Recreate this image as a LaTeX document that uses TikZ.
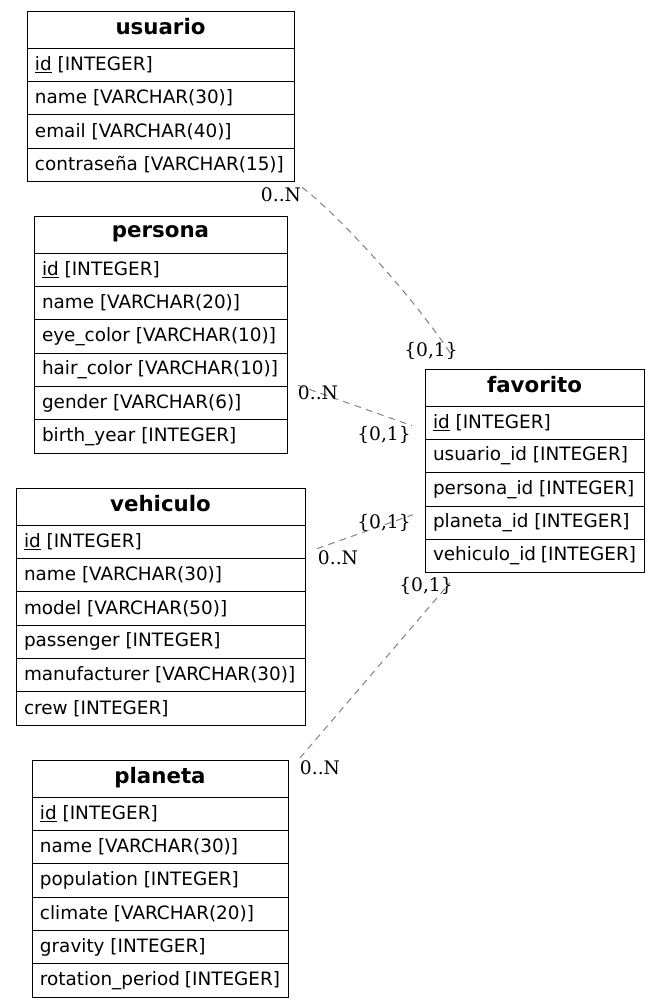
\documentclass[tikz,border=0pt]{standalone}
\usepackage{fontspec}
\setmainfont{DejaVu Sans}
\newfontfamily\cardfont{DejaVu Serif}
\usetikzlibrary{positioning,calc}
\definecolor{relgray}{RGB}{128,128,128}

\begin{document}
\begin{tikzpicture}[x=0.75pt, y=-0.75pt,
    tblhead/.style={draw, line width=0.75pt, anchor=north west, minimum height=27.75pt,
      inner xsep=6pt, inner ysep=0pt, outer sep=0pt, align=center, text width=#1,
      text depth=4pt, font=\fontsize{16}{18}\selectfont\bfseries},
    tblrow/.style={draw, line width=0.75pt, minimum height=25pt, inner xsep=6pt,
      inner ysep=0pt, outer sep=0pt, font=\fontsize{13.8}{16}\selectfont,
      execute at begin node={\hbox to #1\bgroup}, execute at end node={\hfil\egroup}},
    rel/.style={relgray, line width=0.75pt, dash pattern=on 5pt off 4pt},
    card/.style={font=\cardfont\fontsize{14}{16}\selectfont, inner sep=0pt}]
    \useasboundingbox (0,0) rectangle (660,1008);

    % usuario
    \node[tblhead=188.25pt] (usu) at (27,11) {usuario};
    \node[tblrow=188.25pt, below=0pt of usu] (usu1) {\underline{id} [INTEGER]};
    \node[tblrow=188.25pt, below=0pt of usu1] (usu2) {name [VARCHAR(30)]};
    \node[tblrow=188.25pt, below=0pt of usu2] (usu3) {email [VARCHAR(40)]};
    \node[tblrow=188.25pt, below=0pt of usu3] (usu4) {contraseña [VARCHAR(15)]};

    % persona
    \node[tblhead=177.75pt] (per) at (34,216) {persona};
    \node[tblrow=177.75pt, below=0pt of per] (per1) {\underline{id} [INTEGER]};
    \node[tblrow=177.75pt, below=0pt of per1] (per2) {name [VARCHAR(20)]};
    \node[tblrow=177.75pt, below=0pt of per2] (per3) {eye\_color [VARCHAR(10)]};
    \node[tblrow=177.75pt, below=0pt of per3] (per4) {hair\_color [VARCHAR(10)]};
    \node[tblrow=177.75pt, below=0pt of per4] (per5) {gender [VARCHAR(6)]};
    \node[tblrow=177.75pt, below=0pt of per5] (per6) {birth\_year [INTEGER]};

    % vehiculo
    \node[tblhead=204.75pt] (veh) at (16,488) {vehiculo};
    \node[tblrow=204.75pt, below=0pt of veh] (veh1) {\underline{id} [INTEGER]};
    \node[tblrow=204.75pt, below=0pt of veh1] (veh2) {name [VARCHAR(30)]};
    \node[tblrow=204.75pt, below=0pt of veh2] (veh3) {model [VARCHAR(50)]};
    \node[tblrow=204.75pt, below=0pt of veh3] (veh4) {passenger [INTEGER]};
    \node[tblrow=204.75pt, below=0pt of veh4] (veh5) {manufacturer [VARCHAR(30)]};
    \node[tblrow=204.75pt, below=0pt of veh5] (veh6) {crew [INTEGER]};

    % planeta
    \node[tblhead=180pt] (pla) at (32,760) {planeta};
    \node[tblrow=180pt, below=0pt of pla] (pla1) {\underline{id} [INTEGER]};
    \node[tblrow=180pt, below=0pt of pla1] (pla2) {name [VARCHAR(30)]};
    \node[tblrow=180pt, below=0pt of pla2] (pla3) {population [INTEGER]};
    \node[tblrow=180pt, below=0pt of pla3] (pla4) {climate [VARCHAR(20)]};
    \node[tblrow=180pt, below=0pt of pla4] (pla5) {gravity [INTEGER]};
    \node[tblrow=180pt, below=0pt of pla5] (pla6) {rotation\_period [INTEGER]};

    % favorito
    \node[tblhead=152.25pt] (fav) at (425,369) {favorito};
    \node[tblrow=152.25pt, below=0pt of fav] (fav1) {\underline{id} [INTEGER]};
    \node[tblrow=152.25pt, below=0pt of fav1] (fav2) {usuario\_id [INTEGER]};
    \node[tblrow=152.25pt, below=0pt of fav2] (fav3) {persona\_id [INTEGER]};
    \node[tblrow=152.25pt, below=0pt of fav3] (fav4) {planeta\_id [INTEGER]};
    \node[tblrow=152.25pt, below=0pt of fav4] (fav5) {vehiculo\_id [INTEGER]};

    % relations
    \coordinate (usu-out) at ($(usu4.south east)+(8,6)$);
    \coordinate (fav-in1) at ($(fav.north west)+(28,-12)$);
    \coordinate (per-out) at ($(per5.north east)+(11,-1)$);
    \coordinate (fav-in2) at ($(fav1.west)+(-13,3)$);
    \coordinate (veh-out) at ($(veh1.east)+(12,7)$);
    \coordinate (fav-in3) at ($(fav4.west)+(-12,-8)$);
    \coordinate (pla-out) at ($(pla.north east)+(12,-2)$);
    \coordinate (fav-in4) at ($(fav5.south west)+(25,10)$);

    \draw[rel] (usu-out) .. controls (335,212) and (410,292) .. (fav-in1);
    \draw[rel] (per-out) -- (fav-in2);
    \draw[rel] (veh-out) -- (fav-in3);
    \draw[rel] (pla-out) -- (fav-in4);

    \node[card] (c1a) at (281,195) {0..N};
    \node[card] (c1b) at (431,351) {\{0,1\}};
    \node[card] (c2a) at (318,393) {0..N};
    \node[card] (c2b) at (384,435) {\{0,1\}};
    \node[card] (c3a) at (338,558) {0..N};
    \node[card] (c3b) at (384,523) {\{0,1\}};
    \node[card] (c4a) at (320,768) {0..N};
    \node[card] (c4b) at (426,586) {\{0,1\}};
  \end{tikzpicture}
\end{document}
